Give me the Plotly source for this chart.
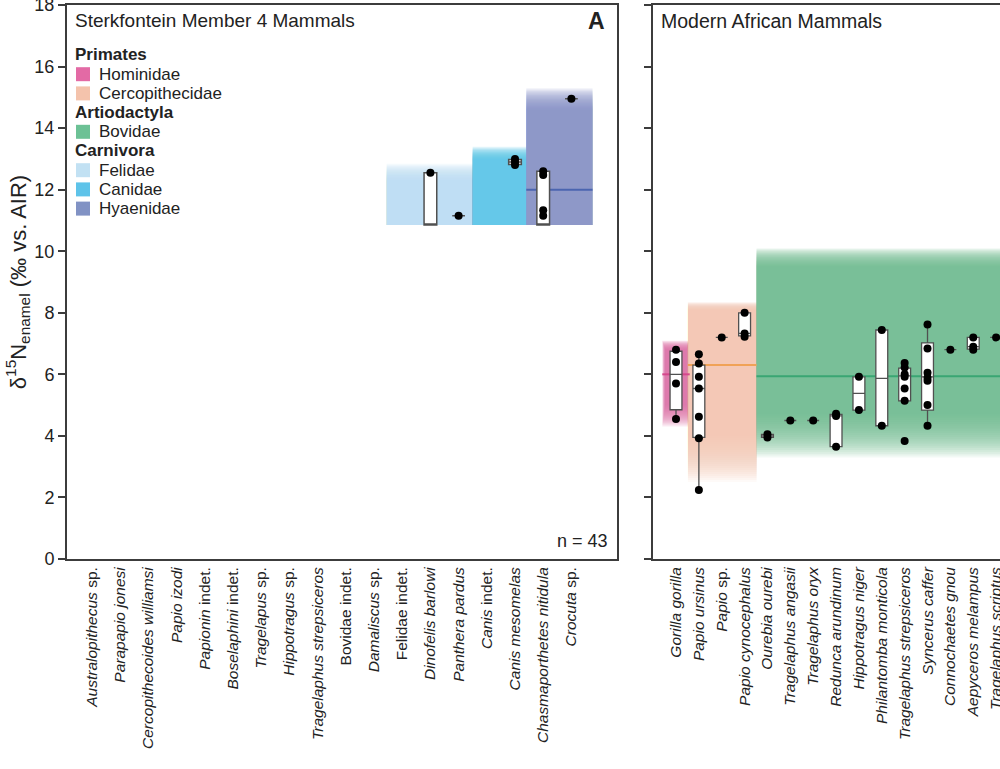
import plotly.graph_objects as go

FONT = "Liberation Sans, Arial, Helvetica, sans-serif"
AXIS_COLOR = "#3c3c3c"
BOX_LINE = "#505050"

# ---------------- Data: Sterkfontein Member 4 (left panel) ----------------
fossil_labels = [
    "<i>Australopithecus</i> sp.", "<i>Parapapio jonesi</i>", "<i>Cercopithecoides williamsi</i>",
    "<i>Papio izodi</i>", "<i>Papionin</i> indet.", "<i>Boselaphini</i> indet.", "<i>Tragelapus</i> sp.",
    "<i>Hippotragus</i> sp.", "<i>Tragelaphus strepsiceros</i>", "Bovidae indet.", "<i>Damaliscus</i> sp.",
    "Felidae indet.", "<i>Dinofelis barlowi</i>", "<i>Panthera pardus</i>", "<i>Canis</i> indet.",
    "<i>Canis mesomelas</i>", "<i>Chasmaporthetes nitidula</i>", "<i>Crocuta</i> sp.",
]
# taxa (by index) that have values drawn so far
fossil_box_index = [12, 13, 15, 16, 17]
fossil_q1 = [10.85, 11.15, 12.82, 10.85, 14.95]
fossil_median = [10.85, 11.15, 12.90, 10.85, 14.95]
fossil_q3 = [12.55, 11.15, 12.98, 12.60, 14.95]
fossil_lower = [10.85, 11.15, 12.80, 10.85, 14.95]
fossil_upper = [12.55, 11.15, 13.00, 12.60, 14.95]
fossil_points = [
    [12.55],
    [11.15],
    [13.00, 12.90, 12.80],
    [12.60, 12.48, 11.33, 11.15],
    [14.95],
]
fossil_n = 43

# ---------------- Data: modern African mammals (right panel) ----------------
modern_labels = [
    "<i>Gorilla gorilla</i>", "<i>Papio ursinus</i>", "<i>Papio</i> sp.", "<i>Papio cynocephalus</i>",
    "<i>Ourebia ourebi</i>", "<i>Tragelaphus angasii</i>", "<i>Tragelaphus oryx</i>",
    "<i>Redunca arundinum</i>", "<i>Hippotragus niger</i>", "<i>Philantomba monticola</i>",
    "<i>Tragelaphus strepsiceros</i>", "<i>Syncerus caffer</i>", "<i>Connochaetes gnou</i>",
    "<i>Aepyceros melampus</i>", "<i>Tragelaphus scriptus</i>",
]
modern_q1 = [4.85, 3.95, 7.20, 7.25, 3.95, 4.50, 4.50, 3.65, 4.84, 4.33, 5.14, 4.84, 6.80, 6.82, 7.20]
modern_median = [6.00, 5.54, 7.20, 7.33, 4.00, 4.50, 4.50, 4.65, 5.38, 5.87, 5.95, 5.92, 6.80, 6.90, 7.20]
modern_q3 = [6.75, 6.30, 7.20, 8.00, 4.05, 4.50, 4.50, 4.70, 5.92, 7.44, 6.20, 7.02, 6.80, 7.20, 7.20]
modern_lower = [4.55, 2.24, 7.20, 7.22, 3.95, 4.50, 4.50, 3.65, 4.84, 4.33, 5.14, 4.33, 6.80, 6.80, 7.20]
modern_upper = [6.80, 6.65, 7.20, 8.00, 4.05, 4.50, 4.50, 4.72, 5.92, 7.44, 6.37, 7.62, 6.80, 7.20, 7.20]
modern_points = [
    [6.80, 6.40, 5.70, 4.55],
    [6.65, 6.35, 5.92, 5.54, 4.62, 3.92, 2.24],
    [7.20],
    [8.00, 7.33, 7.22],
    [4.05, 3.95],
    [4.50],
    [4.50],
    [4.72, 4.65, 3.65],
    [5.92, 4.84],
    [7.44, 4.33],
    [6.37, 6.22, 6.00, 5.92, 5.54, 5.14, 3.83],
    [7.62, 6.84, 6.05, 5.89, 5.79, 5.00, 4.33],
    [6.80],
    [7.20, 6.90, 6.80],
    [7.20],
]

# ---------------- Family reference bands ----------------
band_family = ["Hominidae", "Cercopithecidae", "Bovidae", "Felidae", "Canidae", "Hyaenidae"]
band_panel = ["modern", "modern", "modern", "fossil", "fossil", "fossil"]
band_x_start = [-0.45, 0.52, 3.52, 10.45, 13.5, 15.4]
band_x_end = [0.45, 3.52, 15.5, 13.5, 15.4, 17.75]
band_low = [5.0, 4.0, 4.7, 10.85, 10.85, 10.85]
band_high = [6.8, 8.1, 9.5, 12.3, 13.0, 14.6]
band_low_fade = [0.7, 1.5, 1.4, 0.0, 0.0, 0.0]
band_high_fade = [0.3, 0.25, 0.6, 0.55, 0.4, 0.7]
band_median = [6.0, 6.3, 5.94, None, None, 12.0]

family_colors = {
    "Hominidae": "#e36aa5", "Cercopithecidae": "#f4c3ac", "Bovidae": "#6cc195",
    "Felidae": "#c2e1f3", "Canidae": "#5ec3e9", "Hyaenidae": "#8192c4",
}
median_colors = {
    "Hominidae": "#d5478c", "Cercopithecidae": "#f0a257", "Bovidae": "#3aa673",
    "Hyaenidae": "#4b65b0",
}
band_x_fade = {"Hominidae": 0.15}

legend_groups = [
    ("Primates", ["Hominidae", "Cercopithecidae"]),
    ("Artiodactyla", ["Bovidae"]),
    ("Carnivora", ["Felidae", "Canidae", "Hyaenidae"]),
]

# ---------------- Figure ----------------
W, H = 1000, 769
ML, MR, MT, MB = 67, 0, 5, 210
PW, PH = W - ML - MR, H - MT - MB


def paper_x(px):
    return (px - ML) / PW


def paper_y(py):
    return (H - MB - py) / PH


fig = go.Figure()

# gradient bands built from stacked translucent layers
N_LAYERS = 24
for fam, panel, x0, x1, lo, hi, flo, fhi in zip(
        band_family, band_panel, band_x_start, band_x_end, band_low, band_high,
        band_low_fade, band_high_fade):
    xa, ya = ("x", "y") if panel == "fossil" else ("x2", "y2")
    fx = band_x_fade.get(fam, 0.0)
    a = 1 - (1 - 0.9) ** (1.0 / N_LAYERS)
    for k in range(N_LAYERS):
        t = 1 - k / (N_LAYERS - 1)
        fig.add_shape(type="rect", xref=xa, yref=ya,
                      x0=x0 - fx * t, x1=x1 + fx * t,
                      y0=lo - flo * t, y1=hi + fhi * t,
                      fillcolor=family_colors[fam], opacity=a,
                      line_width=0, layer="below")
for fam, panel, x0, x1, med in zip(band_family, band_panel, band_x_start, band_x_end, band_median):
    if med is None:
        continue
    xa, ya = ("x", "y") if panel == "fossil" else ("x2", "y2")
    fx = band_x_fade.get(fam, 0.0)
    fig.add_shape(type="line", xref=xa, yref=ya, x0=x0 - fx, x1=x1 + fx, y0=med, y1=med,
                  line=dict(color=median_colors[fam], width=2), layer="below")

# boxes
fig.add_trace(go.Box(
    x=fossil_box_index, q1=fossil_q1, median=fossil_median, q3=fossil_q3,
    lowerfence=fossil_lower, upperfence=fossil_upper,
    fillcolor="white", line=dict(color=BOX_LINE, width=1.5), width=0.45,
    whiskerwidth=0, boxpoints=False, hoverinfo="skip", showlegend=False,
    xaxis="x", yaxis="y"))
fig.add_trace(go.Box(
    x=list(range(len(modern_labels))), q1=modern_q1, median=modern_median, q3=modern_q3,
    lowerfence=modern_lower, upperfence=modern_upper,
    fillcolor="white", line=dict(color=BOX_LINE, width=1.3), width=0.52,
    whiskerwidth=0, boxpoints=False, hoverinfo="skip", showlegend=False,
    xaxis="x2", yaxis="y2"))

# points
fx_pts, fy_pts = [], []
for idx, vals in zip(fossil_box_index, fossil_points):
    fx_pts += [idx] * len(vals)
    fy_pts += vals
fig.add_trace(go.Scatter(x=fx_pts, y=fy_pts, mode="markers",
                         marker=dict(color="black", size=8), showlegend=False,
                         xaxis="x", yaxis="y"))
mx_pts, my_pts = [], []
for idx, vals in enumerate(modern_points):
    mx_pts += [idx] * len(vals)
    my_pts += vals
fig.add_trace(go.Scatter(x=mx_pts, y=my_pts, mode="markers",
                         marker=dict(color="black", size=8), showlegend=False,
                         xaxis="x2", yaxis="y2"))

x_left_dom = [0, paper_x(617)]
x_right_dom = [paper_x(653), 1.0]

common_y = dict(range=[0, 18], tickvals=list(range(0, 19, 2)), showgrid=False, zeroline=False,
                showline=True, linecolor=AXIS_COLOR, linewidth=2, ticks="outside",
                ticklen=7, tickwidth=1.6, tickcolor=AXIS_COLOR, ticklabeloverflow="allow")
common_x = dict(showgrid=False, zeroline=False, showline=True, linecolor=AXIS_COLOR,
                linewidth=2, ticks="", tickangle=-90, mirror=True, ticklabeloverflow="allow",
                tickfont=dict(family=FONT, size=15.5, color="#222222"))

fig.update_layout(
    width=W, height=H, margin=dict(l=ML, r=MR, t=MT, b=MB, autoexpand=False),
    paper_bgcolor="white", plot_bgcolor="white",
    font=dict(family=FONT, color="#222222"),
    xaxis=dict(domain=x_left_dom, range=[-0.887, 18.617],
               tickvals=list(range(len(fossil_labels))), ticktext=fossil_labels,
               anchor="y", **common_x),
    yaxis=dict(domain=[0, 1], anchor="x", mirror=True,
               tickfont=dict(family=FONT, size=18, color="#222222"),
               title=dict(text="δ<sup>15</sup>N<sub>enamel</sub> (‰ vs. AIR)",
                          font=dict(family=FONT, size=22, color="#222222"), standoff=2),
               **common_y),
    xaxis2=dict(domain=x_right_dom, range=[-1.006, 14.17],
                tickvals=list(range(len(modern_labels))), ticktext=modern_labels,
                anchor="y2", **common_x),
    yaxis2=dict(domain=[0, 1], anchor="x2", mirror=False, showticklabels=False, **common_y),
)

annotations = [
    dict(text="Sterkfontein Member 4 Mammals", x=paper_x(73), y=paper_y(21),
         xanchor="left", yanchor="middle", font=dict(size=19)),
    dict(text="<b>A</b>", x=paper_x(607), y=paper_y(21), xanchor="right", yanchor="middle",
         font=dict(size=23, family="Liberation Sans Narrow, Liberation Sans, Arial")),
    dict(text="Modern African Mammals", x=paper_x(659), y=paper_y(21),
         xanchor="left", yanchor="middle", font=dict(size=19.5)),
    dict(text=f"n = {fossil_n}", x=paper_x(610), y=paper_y(541),
         xanchor="right", yanchor="middle", font=dict(size=18)),
]

# legend built as text + swatches
row_y = 55
row_gap = 19.2
for order, families in legend_groups:
    annotations.append(dict(text=f"<b>{order}</b>", x=paper_x(73), y=paper_y(row_y),
                            xanchor="left", yanchor="middle", font=dict(size=17)))
    row_y += row_gap
    for fam in families:
        fig.add_shape(type="rect", xref="paper", yref="paper",
                      x0=paper_x(76), x1=paper_x(90), y0=paper_y(row_y + 7), y1=paper_y(row_y - 7),
                      fillcolor=family_colors[fam], line_width=0)
        annotations.append(dict(text=fam, x=paper_x(97), y=paper_y(row_y),
                                xanchor="left", yanchor="middle", font=dict(size=17)))
        row_y += row_gap

for an in annotations:
    an.update(xref="paper", yref="paper", showarrow=False)
    an.setdefault("font", {})
    an["font"].setdefault("family", FONT)
    an["font"].setdefault("color", "#222222")
fig.update_layout(annotations=annotations)

fig.write_html("out.html", config={"displayModeBar": False},
               post_script="document.body.style.margin='0px';")
